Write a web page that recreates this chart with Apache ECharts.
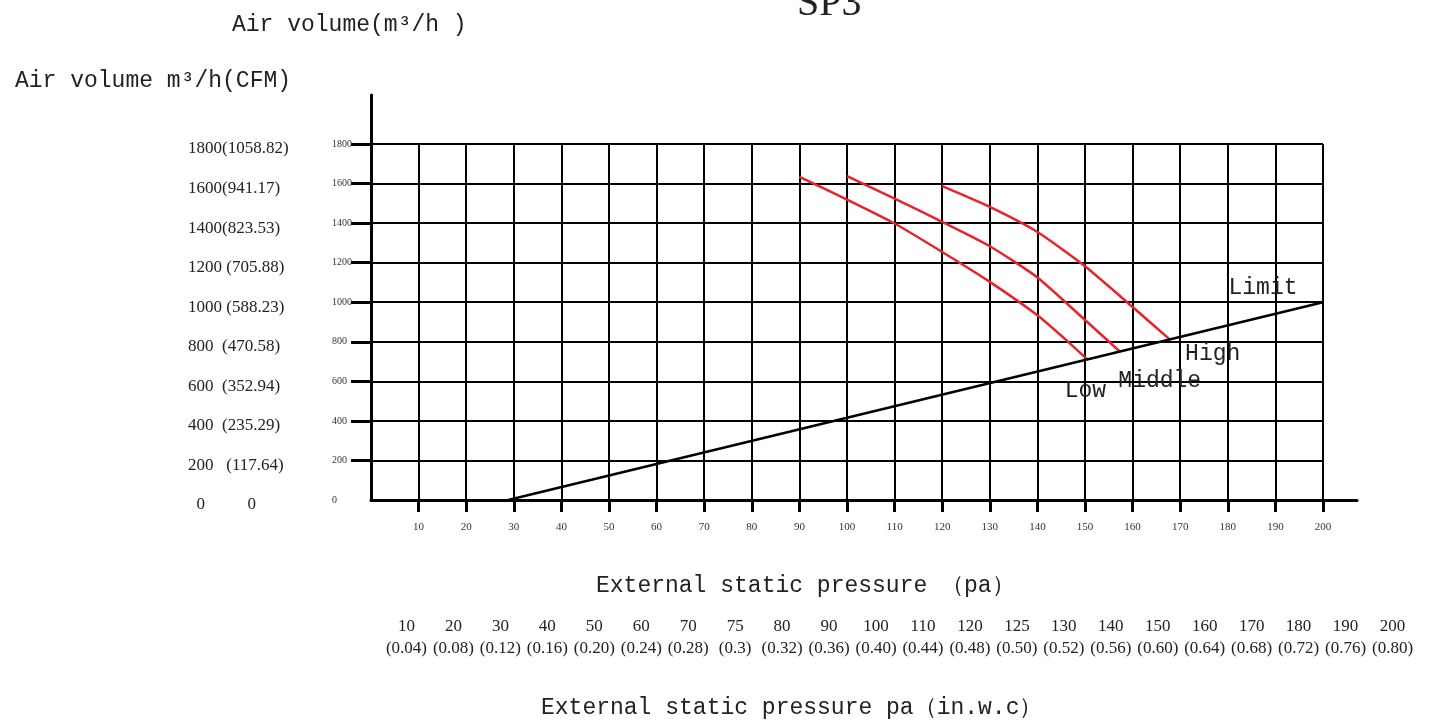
<!DOCTYPE html>
<html><head><meta charset="utf-8">
<script src="https://cdn.jsdelivr.net/npm/echarts@6/dist/echarts.min.js"></script>
<style>html,body{margin:0;padding:0;background:#fff}#c{width:1434px;height:723px}</style>
</head><body><div id="c"></div>
<script>
// ---- data ----
const xTickValues = [10,20,30,40,50,60,70,80,90,100,110,120,130,140,150,160,170,180,190,200];
const yTickValues = [200,400,600,800,1000,1200,1400,1600,1800];
const yOuterLabels = ['  0          0','200   (117.64)','400  (235.29)','600  (352.94)','800  (470.58)','1000 (588.23)','1200 (705.88)','1400(823.53)','1600(941.17)','1800(1058.82)'];
const bottomPa = ['10','20','30','40','50','60','70','75','80','90','100','110','120','125','130','140','150','160','170','180','190','200'];
const bottomInwc = ['(0.04)','(0.08)','(0.12)','(0.16)','(0.20)','(0.24)','(0.28)','(0.3)','(0.32)','(0.36)','(0.40)','(0.44)','(0.48)','(0.50)','(0.52)','(0.56)','(0.60)','(0.64)','(0.68)','(0.72)','(0.76)','(0.80)'];
const lowX = [90,100,110,120,130,140,145.7,150.5];
const lowY = [1634,1519,1398,1254,1103,934,816,711];
const midX = [100,110,120,130,140,150,157.3];
const midY = [1637,1524,1406,1283,1125,910,751];
const highX = [120,130,140,150,160,167.8];
const highY = [1587,1482,1355,1182,976,812];
const limitX = [28.8,200];
const limitY = [0,1000];
const curveNames = ['Low','Middle','High','Limit'];
const titleText = 'SP3';
const yName1 = 'Air volume(m³/h )';
const yName2 = 'Air volume m³/h(CFM)';
const xName1 = 'External static pressure （pa）';
const xName2 = 'External static pressure pa（in.w.c）';

// ---- helpers ----
const zip = (xs, ys) => xs.map((x, i) => [x, ys[i]]);
const MONO = 'Liberation Mono';
const SERIF = 'Liberation Serif';
const RED = '#e8232b';
const TXT = '#222';

function curve(name, xs, ys, color, smooth, labelOffset) {
  const last = xs.length - 1;
  return {
    name, type: 'line', xAxisIndex: 0, yAxisIndex: 0,
    data: zip(xs, ys), smooth, showSymbol: false, silent: true,
    lineStyle: { color, width: 2.5 },
    markPoint: {
      silent: true, symbol: 'circle', symbolSize: 1,
      itemStyle: { color: 'rgba(0,0,0,0)' },
      label: { show: true, position: 'inside', formatter: name, offset: labelOffset,
               fontFamily: MONO, fontSize: 23, color: TXT },
      data: [{ coord: [xs[last], ys[last]] }]
    }
  };
}

const chart = echarts.init(document.getElementById('c'), null, { renderer: 'canvas' });
chart.setOption({
  animation: false,
  backgroundColor: '#fff',
  title: [
    { text: titleText, left: 792, top: -21, textStyle: { fontFamily: SERIF, fontSize: 40, fontWeight: 'normal', color: TXT } },
    { text: yName1, left: 227, top: 8, textStyle: { fontFamily: MONO, fontSize: 23, fontWeight: 'normal', color: TXT } },
    { text: yName2, left: 10, top: 64, textStyle: { fontFamily: MONO, fontSize: 23, fontWeight: 'normal', color: TXT } },
    { text: xName1, left: 591, top: 569, textStyle: { fontFamily: MONO, fontSize: 23, fontWeight: 'normal', color: TXT } },
    { text: xName2, left: 536, top: 691, textStyle: { fontFamily: MONO, fontSize: 23, fontWeight: 'normal', color: TXT } }
  ],
  grid: [
    { left: 371, top: 144, width: 952, height: 356 },
    { left: 371, top: 95, width: 986, height: 405 },
    { left: 383, top: 600, width: 1033, height: 1 }
  ],
  xAxis: [
    { gridIndex: 0, type: 'value', min: 0, max: 200, interval: 10,
      axisLine: { show: false },
      axisTick: { show: true, customValues: xTickValues, length: 12, lineStyle: { color: '#000', width: 3 } },
      axisLabel: { customValues: xTickValues, fontFamily: SERIF, fontSize: 11, color: '#333', margin: 22,
                   formatter: (v) => String(v) },
      splitLine: { show: true, lineStyle: { color: '#000', width: 2 } } },
    { gridIndex: 1, type: 'value', min: 0, max: 1,
      axisLine: { show: true, lineStyle: { color: '#000', width: 3 } },
      axisTick: { show: false }, axisLabel: { show: false }, splitLine: { show: false } },
    { gridIndex: 2, type: 'category', data: bottomPa,
      axisLine: { show: false }, axisTick: { show: false }, splitLine: { show: false },
      axisLabel: { interval: 0, margin: 15, fontFamily: SERIF, fontSize: 17, lineHeight: 22, color: TXT,
                   formatter: (v, i) => v + '\n' + bottomInwc[i] } }
  ],
  yAxis: [
    { gridIndex: 0, type: 'value', min: 0, max: 1800, interval: 200,
      axisLine: { show: false },
      axisTick: { show: true, customValues: yTickValues, length: 20, lineStyle: { color: '#000', width: 3 } },
      axisLabel: { align: 'left', margin: 39, fontFamily: SERIF, fontSize: 10, color: '#333',
                   formatter: (v) => String(v) },
      splitLine: { show: true, lineStyle: { color: '#000', width: 2 } } },
    { gridIndex: 0, type: 'value', position: 'left', min: 0, max: 1800, interval: 200,
      axisLine: { show: false }, axisTick: { show: false }, splitLine: { show: false },
      axisLabel: { align: 'left', verticalAlign: 'top', lineHeight: 10, margin: 183, fontFamily: SERIF, fontSize: 17, color: TXT,
                   formatter: (v) => yOuterLabels[Math.round(v / 200)] } },
    { gridIndex: 1, type: 'value', min: 0, max: 1,
      axisLine: { show: true, lineStyle: { color: '#000', width: 3 } },
      axisTick: { show: false }, axisLabel: { show: false }, splitLine: { show: false } },
    { gridIndex: 2, type: 'value', show: false }
  ],
  series: [
    curve(curveNames[0], lowX, lowY, RED, 0.2, [-2, 32]),
    curve(curveNames[1], midX, midY, RED, 0.2, [40, 29]),
    curve(curveNames[2], highX, highY, RED, 0.2, [43, 15]),
    curve(curveNames[3], limitX, limitY, '#000', false, [-60, -14])
  ]
});
</script>
</body></html>
